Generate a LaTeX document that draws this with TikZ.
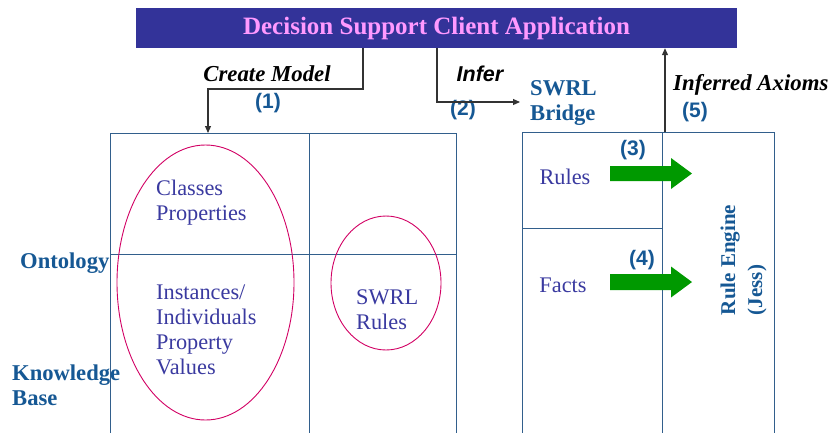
\documentclass[tikz,border=0pt]{standalone}
\usepackage{fontspec}
\setmainfont{Liberation Serif}
\newfontfamily\arialfont{Liberation Sans}
\usetikzlibrary{shapes.geometric,arrows.meta}
\definecolor{appbg}{HTML}{333399}
\definecolor{apptext}{HTML}{FF99FF}
\definecolor{labelblue}{RGB}{22,88,148}
\definecolor{itemblue}{HTML}{3A3AA0}
\definecolor{frame}{RGB}{50,95,140}
\definecolor{oval}{RGB}{210,0,100}
\definecolor{flowgreen}{RGB}{0,153,0}
\tikzset{
  appbox/.style={rectangle, fill=appbg, text=apptext, inner sep=0pt,
    minimum width=601pt, minimum height=40pt,
    font=\fontsize{25}{28}\selectfont\bfseries},
  caption/.style={inner sep=0pt, text=black, font=\fontsize{22.8}{25}\selectfont\bfseries\itshape},
  step num/.style={inner sep=0pt, text=labelblue, font=\arialfont\fontsize{21}{24}\selectfont\bfseries},
  sidelabel/.style={inner sep=0pt, text=labelblue, align=left, font=\fontsize{22.6}{25}\selectfont\bfseries},
  item/.style={inner sep=0pt, text=itemblue, align=left, font=\fontsize{22.3}{25}\selectfont},
  framebox/.style={draw=frame, line width=0.9pt},
  group/.style={ellipse, draw=oval, line width=0.9pt, inner sep=0pt},
  conn/.style={draw=black!80, line width=1.1pt, -{Triangle[length=7pt,width=6pt]}},
  flow/.style={fill=flowgreen, draw=none}
}
\begin{document}
\begin{tikzpicture}[x=1pt,y=-1pt]
\clip (0,0) rectangle (833,432);
\fill[white] (0,0) rectangle (833,432);

% client application bar
\node[appbox] (app) at (436.5,28) {Decision Support Client Application};

% knowledge base frame
\draw[framebox] (110,133) rectangle (456,445);
\draw[framebox] (309,133) -- (309,445);
\draw[framebox] (110,254) -- (456,254);

% SWRL bridge / rule engine frame
\draw[framebox] (522,132) rectangle (774,445);
\draw[framebox] (662,132) -- (662,445);
\draw[framebox] (522,228) -- (662,228);

% ontology groups
\node[group, minimum width=177pt, minimum height=275pt] (onto) at (205.5,282.5) {};
\node[group, minimum width=110pt, minimum height=134pt] (swrlgrp) at (386,283) {};

% items inside the knowledge base
\node[item, anchor=west] (classes) at (156,202.5) {Classes\\Properties};
\node[item, anchor=west] (inst) at (156,329.5) {Instances/\\Individuals\\Property\\Values};
\node[item, anchor=west] (swrlrules) at (356,310) {SWRL\\Rules};

% side labels
\node[sidelabel, anchor=west] (ontology) at (20,263) {Ontology};
\node[sidelabel, anchor=west] (kb) at (12,385) {Knowledge\\Base};
\node[sidelabel, anchor=west] (bridge) at (530,103.5) {SWRL\\Bridge};

% bridge contents
\node[item] (rules) at (565,177) {Rules};
\node[item] (facts) at (563,285) {Facts};
\node[sidelabel, rotate=90, align=left, font=\fontsize{21}{27}\selectfont\bfseries] (engine) at (743.5,260) {Rule Engine\\(Jess)};

% flow captions and step numbers
\node[caption] (create) at (267,74) {Create Model};
\node[caption, font=\arialfont\fontsize{21.5}{24}\selectfont\bfseries\itshape] (infer) at (480,74) {Infer};
\node[caption, anchor=west] (axioms) at (673,85) {Inferred Axioms};
\node[step num] (s1) at (268,103) {(1)};
\node[step num] (s2) at (463,110) {(2)};
\node[step num] (s3) at (633,150) {(3)};
\node[step num] (s4) at (642,260) {(4)};
\node[step num] (s5) at (695,112) {(5)};

% connectors
\coordinate (bend1) at (363,89);
\coordinate (kbtop) at (208,133);
\coordinate (bend2) at (437,102);
\coordinate (bridgein) at (520,102);
\coordinate (engineout) at (665,132);
\draw[conn] (app.south -| bend1) -- (bend1) -| (kbtop);
\draw[conn] (app.south -| bend2) -- (bend2) -- (bridgein);
\draw[conn] (engineout) -- (app.south -| engineout);

% green transfer arrows
\fill[flow] (610,166) -- (671,166) -- (671,158) -- (692,173.5) -- (671,189) -- (671,181) -- (610,181) -- cycle;
\fill[flow] (610,274) -- (671,274) -- (671,266.5) -- (692,282) -- (671,297.5) -- (671,290) -- (610,290) -- cycle;
\end{tikzpicture}
\end{document}
